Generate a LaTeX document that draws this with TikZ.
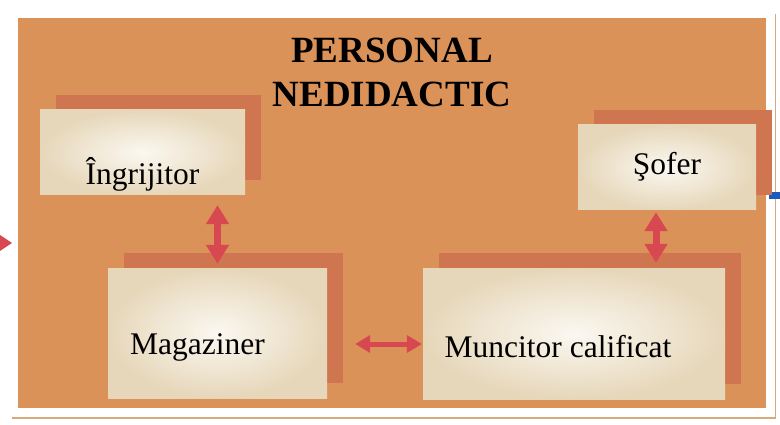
\documentclass[tikz,border=0pt]{standalone}
\usepackage{fontspec}
\setmainfont{Liberation Serif}
\usetikzlibrary{arrows.meta,shadows}
\definecolor{panelc}{RGB}{219,146,88}
\definecolor{shadowc}{RGB}{207,118,80}
\definecolor{boxin}{RGB}{251,248,241}
\definecolor{boxout}{RGB}{230,215,186}
\definecolor{arrowc}{RGB}{216,72,80}
\definecolor{rulec}{RGB}{214,170,122}
\definecolor{markc}{RGB}{30,90,190}
\begin{document}
\begin{tikzpicture}[x=1pt,y=-1pt,
    staffbox/.style={rectangle,inner sep=0pt,inner color=boxin,outer color=boxout,
      drop shadow={shadow xshift=16pt,shadow yshift=15pt,fill=shadowc,opacity=1}},
    stafftext/.style={font=\fontsize{31.5}{36}\selectfont,inner sep=0pt,anchor=base},
    dblarrow/.style={arrows={Triangle[width=22pt,length=19pt]-Triangle[width=22pt,length=19pt]}}]
  \useasboundingbox (0,0) rectangle (780,425);
  % page background
  \fill[panelc] (18,18) rectangle (766,408);
  \draw[rulec,line width=2.5pt] (12,418) -- (776,418);
  \draw[rulec,line width=1pt] (775,14) -- (775,419);
  \fill[arrowc] (0,235) -- (12,243) -- (0,251) -- cycle;
  \fill[markc] (769,192) rectangle (780,199);

  \node[font=\bfseries\fontsize{37}{44}\selectfont,align=center] (title) at (392,72) {PERSONAL\\NEDIDACTIC};

  \begin{scope}
    \node[staffbox,minimum width=205pt,minimum height=85pt,
      label={[stafftext,yshift=-22pt]center:Îngrijitor}] (ingr) at (142.5,152.5) {};
    \node[staffbox,minimum width=178pt,minimum height=85pt,
      label={[stafftext,yshift=1pt]center:Şofer}] (sofer) at (667,167.5) {};
    \node[staffbox,minimum width=219pt,minimum height=130pt,
      label={[stafftext,xshift=-20pt,yshift=-14pt]center:Magaziner}] (magaz) at (217.5,333) {};
    \node[staffbox,minimum width=302pt,minimum height=131pt,
      label={[stafftext,xshift=-16pt,yshift=-13.5pt]center:Muncitor calificat}] (muncit) at (574,333.5) {};
  \end{scope}

  \begin{scope}[every edge/.style={draw=arrowc,line width=7pt,dblarrow}]
    \path ([xshift=75pt,yshift=-10pt]ingr.south) edge ([yshift=4pt]magaz.north);
    \path ([xshift=-11pt,yshift=-2pt]sofer.south) edge ([xshift=82pt,yshift=5pt]muncit.north);
    \path ([xshift=28pt,yshift=-11pt]magaz.east) edge[line width=5pt,
      arrows={Triangle[width=17pt,length=15pt]-Triangle[width=17pt,length=15pt]}]
      ([xshift=-1pt,yshift=-10.5pt]muncit.west);
  \end{scope}
\end{tikzpicture}
\end{document}
